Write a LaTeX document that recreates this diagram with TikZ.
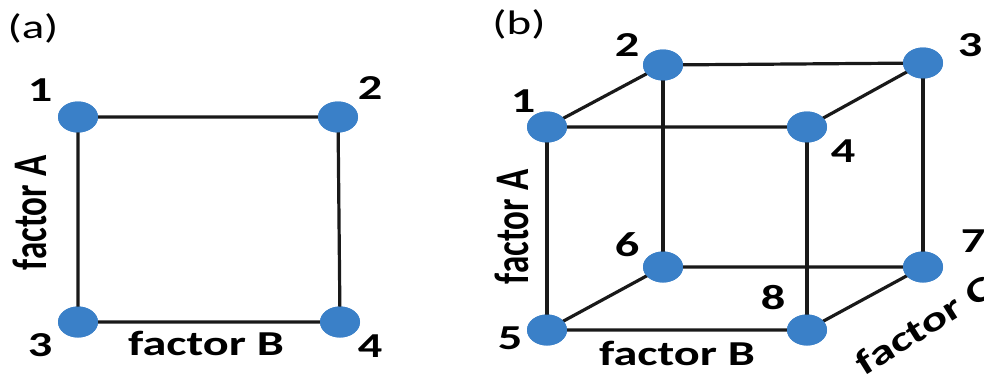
\documentclass[tikz,border=0pt]{standalone}
\usepackage{fontspec}
\setmainfont{Carlito}
\newfontfamily\widefont[FakeStretch=1.38]{Carlito}
\usepackage{tikz}
\usetikzlibrary{shapes.geometric}
\definecolor{dotblue}{RGB}{58,128,200}
\newcommand{\upright}[1]{\scalebox{1}[1.38]{#1}}
\tikzset{
  dot/.style={ellipse, fill=dotblue, minimum width=40pt, minimum height=31pt, inner sep=0pt},
  edge/.style={line width=3.2pt, black!90},
  lbl/.style={font=\widefont\fontsize{35}{35}\selectfont\bfseries, inner sep=0pt},
  vlbl/.style={font=\fontsize{35}{35}\selectfont\bfseries, inner sep=0pt, rotate=90},
  tag/.style={font=\widefont\fontsize{34}{34}\selectfont, inner sep=0pt}
}
\begin{document}
\begin{tikzpicture}[x=1pt, y=-1pt]
\useasboundingbox (0,0) rectangle (984,378);
% (a) two factors
\node[tag] (pa) at (33,28) {(a)};
\node[dot] (a1) at (78,117) {};
\node[dot] (a2) at (338,117) {};
\node[dot] (a3) at (78,322) {};
\node[dot] (a4) at (340,322) {};
\draw[edge] (a1.center) -- (a2.center) -- (a4.center) -- (a3.center) -- cycle;
\foreach \n in {a1,a2,a3,a4} \node[dot] at (\n) {};
\node[lbl] (na1) at (40,90) {1};
\node[lbl] (na2) at (370,88) {2};
\node[lbl] (na3) at (40,345) {3};
\node[lbl] (na4) at (370,346) {4};
\node[vlbl] (fa) at (30,213) {\upright{factor A}};
\node[lbl] (fb) at (206,343) {factor B};

% (b) three factors
\node[tag] (pb) at (519,24) {(b)};
\node[dot] (b1) at (547,127) {};
\node[dot] (b2) at (663,65) {};
\node[dot] (b3) at (923,63) {};
\node[dot] (b4) at (807,127) {};
\node[dot] (b5) at (547,330) {};
\node[dot] (b6) at (663,267) {};
\node[dot] (b7) at (923,267) {};
\node[dot] (b8) at (807,330) {};
\draw[edge] (b1.center) -- (b2.center) -- (b3.center) -- (b4.center) -- cycle;
\draw[edge] (b5.center) -- (b6.center) -- (b7.center) -- (b8.center) -- cycle;
\draw[edge] (b1.center) -- (b5.center);
\draw[edge] (b2.center) -- (b6.center);
\draw[edge] (b3.center) -- (b7.center);
\draw[edge] (b4.center) -- (b8.center);
\foreach \n in {b1,b2,b3,b4,b5,b6,b7,b8} \node[dot] at (\n) {};
\node[lbl] (nb1) at (523,101) {1};
\node[lbl] (nb2) at (627,45) {2};
\node[lbl] (nb3) at (970,45) {3};
\node[lbl] (nb4) at (843,151) {4};
\node[lbl] (nb5) at (510,338) {5};
\node[lbl] (nb6) at (627,245) {6};
\node[lbl] (nb7) at (973,241) {7};
\node[lbl] (nb8) at (773,298) {8};
\node[vlbl] (fa2) at (512,227) {\upright{factor A}};
\node[lbl] (fb2) at (677,353) {factor B};
\node[lbl, rotate=32] (fc) at (924,325) {factor C};
\end{tikzpicture}
\end{document}
